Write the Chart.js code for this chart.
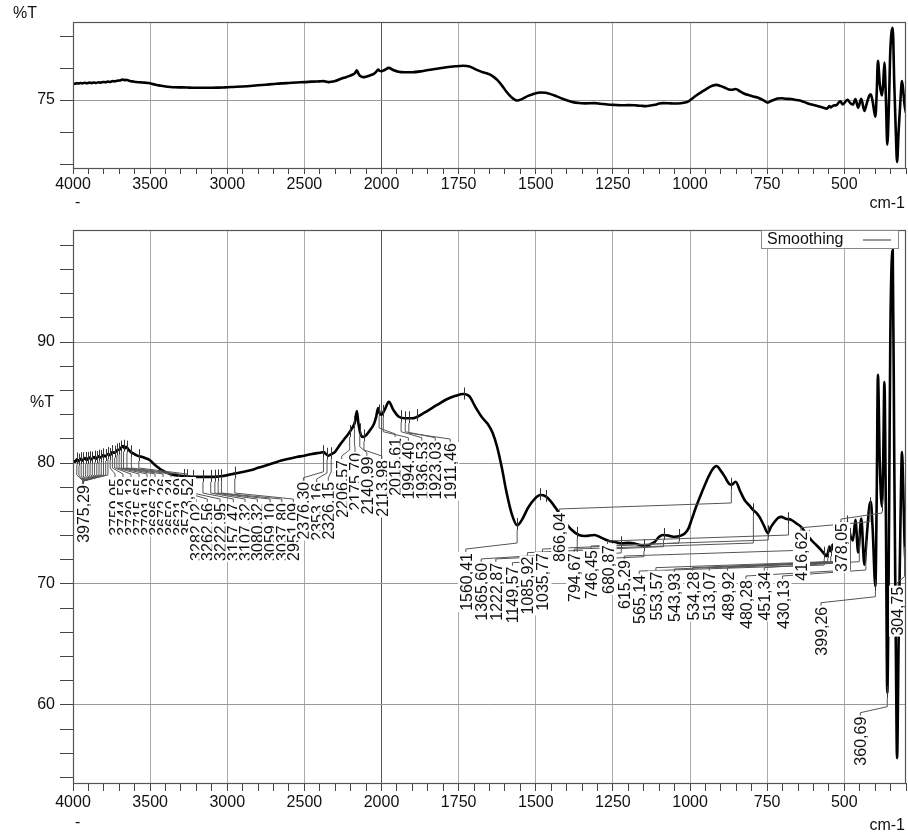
<!DOCTYPE html>
<html>
<head>
<meta charset="utf-8">
<script src="https://cdn.jsdelivr.net/npm/chart.js@4.4.0/dist/chart.umd.min.js"></script>
<style>
  body { margin: 0; background: #fff; }
  #wrap { position: relative; width: 908px; height: 837px; }
  canvas { position: absolute; left: 0; }
</style>
</head>
<body>
<div id="wrap">
  <canvas id="rawChart" width="908" height="210" style="top:0"></canvas>
  <canvas id="smoothChart" width="908" height="627" style="top:210px"></canvas>
</div>
<script>
// axis labels
const xTickLabels = [4000, 3500, 3000, 2500, 2000, 1750, 1500, 1250, 1000, 750, 500];
const topYTicks = [55, 60, 65, 70, 75, 80, 85, 90, 95];
const topYLabels = [75];
const bottomYTicks = [54, 56, 58, 60, 62, 64, 66, 68, 70, 72, 74, 76, 78, 80, 82, 84, 86, 88, 90, 92, 94, 96, 98];
const bottomYLabels = [60, 70, 80, 90];

// spectrum (cm-1 / %T)
const wavenumber = [
  4000, 3985, 3975, 3965, 3950, 3940, 3925, 3910, 3895, 3880, 3865, 3850, 3835, 3820, 3805, 3790,
  3775, 3760, 3745, 3730, 3715, 3700, 3685, 3675, 3665, 3655, 3640, 3625, 3610, 3590, 3570, 3550,
  3530, 3510, 3490, 3470, 3450, 3430, 3400, 3370, 3340, 3300, 3260, 3220, 3180, 3140, 3100, 3060,
  3030, 3000, 2960, 2900, 2850, 2800, 2750, 2700, 2650, 2600, 2550, 2500, 2450, 2400, 2376, 2360,
  2345, 2330, 2315, 2300, 2270, 2240, 2215, 2190, 2172, 2160, 2150, 2138, 2120, 2100, 2075, 2050,
  2035, 2022, 2012, 2000, 1990, 1976, 1962, 1945, 1925, 1900, 1865, 1820, 1790, 1760, 1735, 1715,
  1695, 1675, 1655, 1640, 1625, 1610, 1595, 1578, 1560, 1545, 1525, 1505, 1485, 1468, 1452, 1432,
  1410, 1385, 1360, 1340, 1310, 1290, 1267, 1240, 1222, 1200, 1180, 1160, 1143, 1128, 1114, 1100,
  1088, 1070, 1050, 1030, 1016, 1005, 995, 980, 963, 945, 928, 914, 900, 887, 874, 866,
  852, 838, 822, 808, 795, 784, 774, 760, 748, 738, 727, 715, 704, 690, 672, 655,
  639, 622, 606, 590, 575, 565, 557, 552, 548, 544, 535, 526, 513, 505, 490, 480,
  472, 464, 455, 445, 435, 427, 419, 414, 408, 399.26, 395, 391, 385, 378.05, 374, 370,
  365, 360.69, 355, 351, 343, 338, 333, 329, 324, 318, 313, 309, 304.75, 300
];
const transmittance = [
  80.2, 80.1, 80.3, 80.15, 80.35, 80.2, 80.4, 80.25, 80.45, 80.3, 80.5, 80.35, 80.55, 80.45, 80.65, 80.55,
  80.75, 80.65, 80.9, 80.85, 81.05, 81.1, 81.3, 81.4, 81.2, 81.35, 81.1, 80.9, 80.8, 80.65, 80.55, 80.5,
  80.4, 80.3, 80.1, 79.85, 79.65, 79.45, 79.25, 79.1, 79.0, 78.95, 78.9, 78.85, 78.85, 78.85, 78.85, 78.88,
  78.92, 79.0, 79.1, 79.25, 79.4, 79.6, 79.8, 80.0, 80.2, 80.35, 80.5, 80.6, 80.75, 80.85, 80.9, 80.75,
  80.6, 80.7, 80.8, 80.95, 81.5, 82.0, 82.4, 82.9, 83.4, 84.3, 83.3, 82.5, 82.15, 82.3, 82.7, 83.2,
  83.8, 84.55, 84.1, 84.0, 84.4, 85.05, 84.4, 83.85, 83.7, 83.7, 84.1, 84.8, 85.25, 85.55, 85.7, 85.5,
  84.6, 83.8, 83.2, 82.5, 81.3, 79.6, 77.6, 75.8, 74.85, 75.3, 76.3, 77.0, 77.35, 77.25, 76.85, 76.15,
  75.3, 74.5, 74.05, 73.97, 74.05, 73.85, 73.6, 73.45, 73.36, 73.4, 73.35, 73.2, 73.1, 73.3, 73.5, 73.9,
  74.05, 74.0, 73.9, 74.0, 74.2, 74.6, 75.3, 76.4, 77.5, 78.6, 79.45, 79.75, 79.35, 78.85, 78.3, 78.2,
  78.45, 77.7, 76.9, 76.5, 76.1, 75.85, 75.5, 74.8, 74.2, 74.7, 75.1, 75.45, 75.55, 75.4, 75.3, 75.0,
  74.7, 74.1, 73.6, 73.2, 72.8, 72.5, 72.3, 72.7, 73.1, 72.7, 73.3, 73.4, 74.6, 73.6, 75.1, 74.0,
  73.6, 75.3, 72.6, 75.4, 71.6, 74.0, 76.4, 76.8, 74.5, 69.8, 77.0, 87.3, 80.0, 76.4, 80.0, 86.7,
  75.0, 61.0, 75.0, 90.0, 97.6, 80.0, 65.0, 55.6, 65.0, 75.0, 80.9, 78.0, 73.5, 71.0
];

// picked peaks (cm-1), in the order the software printed them
const peakWavenumbers = [
  3961.52, 3947.08, 3932.61, 3918.15, 3903.68, 3889.22, 3874.76, 3860.29, 3845.83, 3831.36, 3816.90, 3802.44, 3787.97, 3773.51,
  3975.29,
  3759.05, 3744.58, 3730.12, 3715.65, 3701.19, 3686.73, 3672.26, 3650.34, 3621.80, 3573.52,
  3282.02, 3262.56, 3222.95, 3157.47, 3107.32, 3080.32, 3059.10, 3037.80, 2951.09,
  2376.30, 2353.16, 2326.15, 2206.57, 2175.70, 2140.99, 2113.98, 2015.61, 1994.40, 1936.53, 1923.03, 1911.46,
  1560.41, 1365.60, 1222.87, 1149.57, 1085.92, 1035.77, 866.04, 794.67, 746.45, 680.87, 615.29,
  565.14, 553.57, 543.93, 534.28, 513.07, 489.92, 480.28, 451.34, 430.13, 416.62, 378.05, 399.26, 304.75, 360.69
];
// marks with no printed value
const markedOnly = [1885.20, 1731.40, 1485.30, 1465.90];

// where each peak's text column sits (cm-1 along the axis) and where it ends (%T)
const labelColumn = [
  3933, 3933, 3933, 3933, 3933, 3933, 3933, 3933, 3933, 3933, 3933, 3933, 3933, 3933,
  3933,
  3727.6, 3675.7, 3623.9, 3572, 3520.1, 3468.2, 3416.4, 3364.5, 3312.6, 3260.7,
  3202.3, 3129.1, 3046.7, 2960.5, 2884.6, 2804.8, 2722.4, 2646.6, 2571.3,
  2506.5, 2420, 2345, 2258, 2171.5, 2095, 1999, 1956, 1913, 1869.3, 1826, 1777.6,
  1726.7, 1677, 1629.4, 1575.6, 1527, 1478.3, 1424, 1375.5, 1321.3, 1267.5, 1213.4,
  1164.7, 1110.6, 1051.2, 991.9, 937.7, 878.4, 818.7, 759.4, 700.1, 640.4, 510.7, 575.6, 329, 448
];
const labelTop = [
  78.18, 78.18, 78.18, 78.18, 78.18, 78.18, 78.18, 78.18, 78.18, 78.18, 78.18, 78.18, 78.18, 78.18,
  78.18,
  78.76, 78.76, 78.76, 78.76, 78.76, 78.76, 78.76, 78.76, 78.76, 78.76,
  76.69, 76.69, 76.69, 76.69, 76.69, 76.69, 76.69, 76.69, 76.69,
  78.45, 78.35, 78.45, 80.25, 80.83, 80.52, 80.25, 82.07, 81.76, 81.76, 81.76, 81.65,
  72.56, 71.74, 71.74, 71.43, 72.26, 72.56, 75.87, 72.56, 72.81, 73.22, 71.98,
  70.74, 71.02, 70.91, 71.02, 71.02, 71.02, 70.33, 71.02, 70.33, 74.32, 75.04, 68.12, 69.78, 59.03
];

const FONT = '"Liberation Sans", Arial, sans-serif';

// the x axis changes scale at 2000 cm-1
const toAxis = w => (w >= 2000 ? (4000 - w) / 500 : 4 + (2000 - w) / 250);
const fromAxis = u => Math.round(u <= 4 ? 4000 - u * 500 : 2000 - (u - 4) * 250);

const xStops = [];
for (let w = 4000; w >= 2000; w -= 100) xStops.push(w);
for (let w = 1950; w >= 300; w -= 50) xStops.push(w);

const points = wavenumber.map((w, i) => ({ x: toAxis(w), y: transmittance[i] }));

const valueAt = w => {
  for (let i = 0; i < wavenumber.length - 1; i++) {
    const a = wavenumber[i], b = wavenumber[i + 1];
    if (w <= a && w >= b) {
      const t = (a - w) / (a - b);
      return transmittance[i] + t * (transmittance[i + 1] - transmittance[i]);
    }
  }
  return transmittance[transmittance.length - 1];
};

const xScale = (axisHeight, tickLen, pad) => ({
  type: 'linear',
  min: toAxis(4000),
  max: toAxis(300),
  afterBuildTicks: s => { s.ticks = xStops.map(w => ({ value: toAxis(w) })); },
  afterFit: s => { s.height = axisHeight; },
  ticks: {
    autoSkip: false, maxRotation: 0, padding: pad, color: '#111',
    font: { family: FONT, size: 16 },
    callback: v => (xTickLabels.includes(fromAxis(v)) ? String(fromAxis(v)) : '')
  },
  grid: {
    color: c => {
      const w = fromAxis(c.tick.value);
      if (!xTickLabels.includes(w)) return 'rgba(0,0,0,0)';
      return w === 2000 ? '#555' : '#aaa';
    },
    tickColor: '#444',
    tickLength: tickLen
  },
  border: { display: false }
});

const yScale = (min, max, stops, labelled) => ({
  min, max,
  afterBuildTicks: s => { s.ticks = stops.map(v => ({ value: v })); },
  afterFit: s => { s.width = 73; },
  ticks: {
    padding: 5, color: '#111',
    font: { family: FONT, size: 16 },
    callback: v => (labelled.includes(v) ? String(v) : '')
  },
  grid: {
    color: c => (labelled.includes(c.tick.value) ? '#999' : 'rgba(0,0,0,0)'),
    tickColor: '#444',
    tickLength: 13
  },
  border: { display: false }
});

const decor = (unitY, dashGap, cmGap, withLegend) => ({
  id: 'decor',
  afterDraw(chart) {
    const { ctx, chartArea: a } = chart;
    ctx.save();
    ctx.strokeStyle = '#555';
    ctx.lineWidth = 1.2;
    ctx.strokeRect(a.left + 0.5, a.top + 0.5, a.right - a.left - 1, a.bottom - a.top);
    ctx.fillStyle = '#111';
    ctx.font = '16px ' + FONT;
    ctx.textBaseline = 'middle';
    ctx.textAlign = 'left';
    const ty = unitY(chart);
    ctx.fillText('%T', ty.x, ty.y);
    ctx.fillText('-', a.left + 2, a.bottom + dashGap);
    ctx.textAlign = 'right';
    ctx.fillText('cm-1', a.right - 1, a.bottom + cmGap);
    if (withLegend) {
      const bx = a.right - 145, by = a.top + 0.5;
      ctx.fillStyle = '#fff';
      ctx.fillRect(bx, by, 137, 18);
      ctx.strokeStyle = '#888';
      ctx.lineWidth = 1;
      ctx.strokeRect(bx + 0.5, by, 137, 18);
      ctx.fillStyle = '#111';
      ctx.textAlign = 'left';
      ctx.fillText('Smoothing', bx + 6, by + 9.5);
      ctx.strokeStyle = '#333';
      ctx.beginPath();
      ctx.moveTo(bx + 102, by + 9.5);
      ctx.lineTo(bx + 130, by + 9.5);
      ctx.stroke();
    }
    ctx.restore();
  }
});

const peakLabels = {
  id: 'peakLabels',
  afterDatasetsDraw(chart) {
    const { ctx } = chart;
    const xs = chart.scales.x, ys = chart.scales.y;
    const px = w => xs.getPixelForValue(toAxis(w));
    const py = t => ys.getPixelForValue(t);
    ctx.save();
    ctx.lineWidth = 1;
    ctx.strokeStyle = '#333';
    peakWavenumbers.concat(markedOnly).forEach(w => {
      const x = Math.round(px(w)) + 0.5, y = py(valueAt(w));
      ctx.beginPath();
      ctx.moveTo(x, y - 7);
      ctx.lineTo(x, y + 5);
      ctx.stroke();
    });
    ctx.strokeStyle = '#555';
    peakWavenumbers.forEach((w, i) => {
      const x0 = px(w), y0 = py(valueAt(w));
      const lx = px(labelColumn[i]), ty = py(labelTop[i]);
      const ey = Math.max(y0 + 5, ty - 10);
      ctx.beginPath();
      ctx.moveTo(x0, y0 + 5);
      ctx.lineTo(x0, ey);
      ctx.lineTo(lx, ty - 4);
      ctx.lineTo(lx, ty);
      ctx.stroke();
    });
    ctx.font = '16px ' + FONT;
    ctx.textAlign = 'right';
    ctx.textBaseline = 'alphabetic';
    peakWavenumbers.forEach((w, i) => {
      const text = w.toFixed(2).replace('.', ',');
      const lx = px(labelColumn[i]), ty = py(labelTop[i]);
      const len = ctx.measureText(text).width;
      ctx.save();
      ctx.translate(lx, ty);
      ctx.rotate(-Math.PI / 2);
      ctx.fillStyle = '#fff';
      ctx.fillRect(-len - 1, -8, len + 2, 17);
      ctx.fillStyle = '#111';
      ctx.fillText(text, 0, 6);
      ctx.restore();
    });
    ctx.restore();
  }
};

const trace = label => ({
  label,
  data: points,
  borderColor: '#000',
  borderWidth: 2.6,
  pointRadius: 0,
  cubicInterpolationMode: 'monotone'
});

const common = {
  responsive: false,
  animation: false,
  devicePixelRatio: 1,
  plugins: { legend: { display: false }, tooltip: { enabled: false } }
};

new Chart(document.getElementById('rawChart'), {
  type: 'line',
  data: { datasets: [trace('Raw')] },
  options: {
    ...common,
    layout: { padding: { top: 22, right: 2, left: 0, bottom: 0 } },
    scales: {
      x: xScale(42, 6, 1),
      y: yScale(53.75, 99.4, topYTicks, topYLabels)
    }
  },
  plugins: [decor(() => ({ x: 13, y: 14 }), 35, 36, false)]
});

new Chart(document.getElementById('smoothChart'), {
  type: 'line',
  data: { datasets: [trace('Smoothing')] },
  options: {
    ...common,
    layout: { padding: { top: 20, right: 2, left: 0, bottom: 0 } },
    scales: {
      x: xScale(54, 8, 2),
      y: yScale(53.55, 99.26, bottomYTicks, bottomYLabels)
    }
  },
  plugins: [peakLabels, decor(c => ({ x: 30, y: c.scales.y.getPixelForValue(85) }), 40, 43, true)]
});
</script>
</body>
</html>
